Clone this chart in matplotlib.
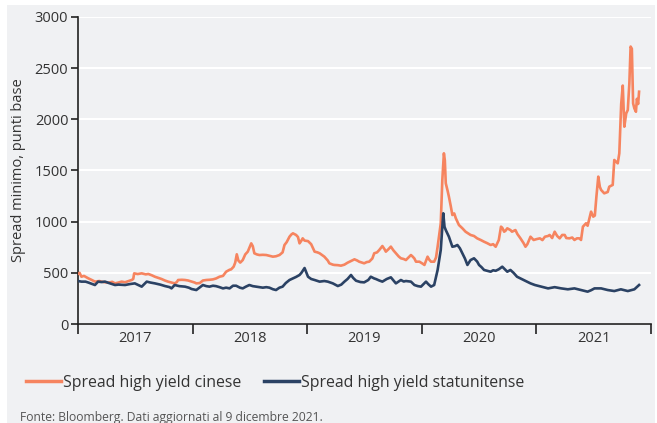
import matplotlib
matplotlib.use("Agg")
import matplotlib.pyplot as plt
from matplotlib.patches import Rectangle
import pandas as pd

plt.rcParams['font.family'] = ['Open Sans', 'DejaVu Sans']

# ---- Data ----
cn_dates = [
    "2017-01-01", "2017-01-06", "2017-01-12", "2017-01-20", "2017-02-03", "2017-02-14", "2017-02-24",
    "2017-03-10", "2017-03-17", "2017-03-28", "2017-04-08", "2017-04-20", "2017-04-29", "2017-05-10",
    "2017-05-20", "2017-05-31", "2017-06-10", "2017-06-21", "2017-06-26", "2017-06-29", "2017-07-10",
    "2017-07-23", "2017-08-05", "2017-08-13", "2017-08-25", "2017-09-03", "2017-09-15", "2017-09-24",
    "2017-10-05", "2017-10-15", "2017-10-26", "2017-11-05", "2017-11-12", "2017-11-16", "2017-11-28",
    "2017-12-08", "2017-12-18", "2017-12-29", "2018-01-08", "2018-01-13", "2018-01-24", "2018-02-03",
    "2018-02-14", "2018-02-24", "2018-03-07", "2018-03-17", "2018-03-28", "2018-04-08", "2018-04-18",
    "2018-04-29", "2018-05-04", "2018-05-12", "2018-05-17", "2018-05-22", "2018-05-27", "2018-06-02",
    "2018-06-10", "2018-06-18", "2018-06-26", "2018-07-03", "2018-07-07", "2018-07-12", "2018-07-17",
    "2018-07-25", "2018-08-02", "2018-08-13", "2018-08-24", "2018-09-03", "2018-09-14", "2018-09-24",
    "2018-10-05", "2018-10-15", "2018-10-21", "2018-10-28", "2018-11-06", "2018-11-12", "2018-11-17",
    "2018-11-27", "2018-12-03", "2018-12-08", "2018-12-13", "2018-12-18", "2018-12-24", "2019-01-04",
    "2019-01-14", "2019-01-25", "2019-02-03", "2019-02-10", "2019-02-25", "2019-03-08", "2019-03-13",
    "2019-03-24", "2019-03-29", "2019-04-09", "2019-04-19", "2019-04-30", "2019-05-10", "2019-05-21",
    "2019-06-01", "2019-06-10", "2019-06-16", "2019-07-02", "2019-07-10", "2019-07-18", "2019-07-28",
    "2019-08-03", "2019-08-12", "2019-08-19", "2019-08-29", "2019-09-05", "2019-09-09", "2019-09-17",
    "2019-09-25", "2019-10-03", "2019-10-11", "2019-10-20", "2019-10-27", "2019-11-05", "2019-11-12",
    "2019-11-20", "2019-11-28", "2019-12-03", "2019-12-09", "2019-12-14", "2019-12-25", "2020-01-04",
    "2020-01-10", "2020-01-20", "2020-01-25", "2020-01-31", "2020-02-10", "2020-02-16", "2020-02-21",
    "2020-03-02", "2020-03-07", "2020-03-12", "2020-03-15", "2020-03-18", "2020-03-24", "2020-03-28",
    "2020-04-03", "2020-04-08", "2020-04-14", "2020-04-19", "2020-04-29", "2020-05-10", "2020-05-20",
    "2020-06-05", "2020-06-16", "2020-06-26", "2020-07-08", "2020-07-18", "2020-07-28", "2020-08-08",
    "2020-08-16", "2020-08-24", "2020-09-03", "2020-09-10", "2020-09-14", "2020-09-20", "2020-09-24",
    "2020-09-30", "2020-10-10", "2020-10-15", "2020-10-26", "2020-11-01", "2020-11-11", "2020-11-21",
    "2020-11-27", "2020-12-03", "2020-12-13", "2020-12-23", "2021-01-02", "2021-01-12", "2021-01-20",
    "2021-01-28", "2021-02-07", "2021-02-12", "2021-02-20", "2021-02-28", "2021-03-08", "2021-03-16",
    "2021-03-24", "2021-04-01", "2021-04-06", "2021-04-16", "2021-04-25", "2021-05-02", "2021-05-10",
    "2021-05-18", "2021-05-23", "2021-05-29", "2021-06-08", "2021-06-13", "2021-06-24", "2021-07-01",
    "2021-07-06", "2021-07-11", "2021-07-17", "2021-07-22", "2021-07-26", "2021-08-05", "2021-08-16",
    "2021-08-21", "2021-09-01", "2021-09-06", "2021-09-17", "2021-09-22", "2021-09-28", "2021-10-03",
    "2021-10-08", "2021-10-14", "2021-10-19", "2021-10-24", "2021-10-28", "2021-11-01", "2021-11-05",
    "2021-11-09", "2021-11-14", "2021-11-17", "2021-11-21", "2021-11-24",
]
cn_values = [
    490, 500, 462, 470, 446, 430, 414,
    420, 414, 408, 404, 412, 397, 405,
    414, 408, 418, 430, 440, 495, 488,
    495, 485, 489, 475, 462, 450, 440,
    425, 414, 405, 397, 410, 430, 432,
    430, 425, 414, 405, 397, 400, 425,
    430, 432, 436, 445, 462, 470, 511,
    530, 534, 560, 600, 681, 620, 600,
    625, 680, 707, 760, 788, 760, 691,
    680, 674, 676, 674, 666, 658, 662,
    674, 700, 772, 800, 853, 875, 886,
    870, 850, 788, 810, 837, 815, 810,
    780, 707, 700, 691, 658, 620, 593,
    580, 577, 575, 570, 580, 599, 615,
    632, 620, 609, 593, 605, 609, 640,
    691, 700, 723, 762, 730, 707, 730,
    756, 720, 691, 660, 642, 635, 625,
    650, 674, 660, 640, 609, 609, 590,
    577, 658, 630, 609, 609, 650, 755,
    984, 1407, 1668, 1600, 1375, 1300, 1244,
    1150, 1065, 1080, 1033, 967, 935, 902,
    870, 860, 837, 820, 804, 790, 772,
    780, 755, 821, 951, 940, 902, 910,
    935, 918, 902, 918, 880, 837, 790,
    755, 780, 853, 821, 830, 837, 820,
    853, 860, 870, 840, 902, 860, 837,
    870, 870, 840, 837, 845, 821, 837,
    837, 821, 951, 984, 960, 1098, 1049,
    1060, 1244, 1440, 1340, 1310, 1277, 1290,
    1342, 1359, 1603, 1570, 1668, 2150, 2330,
    1928, 2058, 2091, 2350, 2711, 2690, 2156,
    2107, 2074, 2200, 2150, 2270,
]

us_dates = [
    "2017-01-01", "2017-01-12", "2017-01-25", "2017-02-03", "2017-02-24", "2017-03-06", "2017-03-17",
    "2017-03-28", "2017-04-10", "2017-04-29", "2017-05-10", "2017-05-31", "2017-06-15", "2017-07-01",
    "2017-07-23", "2017-08-08", "2017-08-20", "2017-09-03", "2017-09-20", "2017-10-05", "2017-10-20",
    "2017-10-26", "2017-11-05", "2017-11-20", "2017-12-08", "2017-12-20", "2017-12-29", "2018-01-13",
    "2018-02-03", "2018-02-14", "2018-02-24", "2018-03-07", "2018-03-17", "2018-03-28", "2018-04-08",
    "2018-04-18", "2018-04-29", "2018-05-10", "2018-05-20", "2018-06-01", "2018-06-10", "2018-06-20",
    "2018-07-01", "2018-07-12", "2018-07-23", "2018-08-02", "2018-08-13", "2018-08-24", "2018-09-03",
    "2018-09-14", "2018-09-24", "2018-10-05", "2018-10-15", "2018-10-25", "2018-11-06", "2018-11-17",
    "2018-11-27", "2018-12-08", "2018-12-14", "2018-12-24", "2019-01-04", "2019-01-14", "2019-01-25",
    "2019-02-10", "2019-02-25", "2019-03-08", "2019-03-24", "2019-04-09", "2019-04-20", "2019-04-30",
    "2019-05-10", "2019-05-21", "2019-05-28", "2019-06-06", "2019-06-20", "2019-07-02", "2019-07-15",
    "2019-07-23", "2019-08-03", "2019-08-08", "2019-08-19", "2019-08-29", "2019-09-12", "2019-09-25",
    "2019-10-05", "2019-10-11", "2019-10-20", "2019-10-27", "2019-11-05", "2019-11-12", "2019-11-28",
    "2019-12-09", "2019-12-20", "2019-12-30", "2020-01-15", "2020-01-22", "2020-01-31", "2020-02-10",
    "2020-02-21", "2020-03-02", "2020-03-10", "2020-03-14", "2020-03-18", "2020-03-24", "2020-03-28",
    "2020-04-03", "2020-04-08", "2020-04-16", "2020-04-24", "2020-05-02", "2020-05-10", "2020-05-18",
    "2020-05-26", "2020-06-05", "2020-06-16", "2020-06-26", "2020-07-02", "2020-07-10", "2020-07-18",
    "2020-07-28", "2020-08-08", "2020-08-16", "2020-08-24", "2020-09-03", "2020-09-14", "2020-09-24",
    "2020-09-30", "2020-10-10", "2020-10-20", "2020-10-31", "2020-11-11", "2020-11-21", "2020-12-01",
    "2020-12-13", "2020-12-27", "2021-01-17", "2021-02-07", "2021-02-28", "2021-03-21", "2021-04-11",
    "2021-05-02", "2021-05-23", "2021-06-13", "2021-06-24", "2021-07-05", "2021-07-26", "2021-08-16",
    "2021-09-06", "2021-09-27", "2021-10-19", "2021-11-09", "2021-11-24",
]
us_values = [
    420, 414, 414, 405, 381, 414, 410,
    414, 400, 381, 385, 381, 390, 397,
    365, 414, 405, 397, 385, 371, 360,
    348, 381, 370, 365, 355, 342, 332,
    381, 370, 365, 374, 370, 360, 348,
    355, 348, 374, 374, 355, 348, 365,
    381, 370, 365, 360, 355, 360, 355,
    340, 332, 355, 365, 400, 430, 446,
    460, 479, 500, 547, 462, 440, 430,
    414, 420, 414, 397, 371, 385, 414,
    440, 479, 450, 423, 410, 407, 430,
    462, 445, 440, 425, 414, 440, 456,
    420, 397, 415, 430, 415, 420, 414,
    381, 370, 365, 414, 390, 365, 381,
    528, 723, 1082, 950, 918, 880, 853,
    800, 755, 760, 772, 740, 691, 640,
    577, 625, 642, 610, 577, 555, 528,
    520, 511, 525, 520, 535, 560, 530,
    511, 528, 500, 462, 445, 430, 415,
    397, 381, 365, 348, 360, 348, 339,
    348, 332, 316, 330, 348, 348, 332,
    322, 339, 322, 339, 381,
]

series_labels = ["Spread high yield cinese", "Spread high yield statunitense"]
year_labels = ["2017", "2018", "2019", "2020", "2021"]
y_ticks = [0, 500, 1000, 1500, 2000, 2500, 3000]

# ---- Style ----
BG = "#f0f1f3"
ORANGE = "#f6845f"
NAVY = "#2b4264"
TXT = "#333333"

fig = plt.figure(figsize=(6.57, 4.23), dpi=100)
fig.patch.set_facecolor("white")
fig.patches.append(Rectangle((7 / 657, 0), (655 - 7) / 657, (423 - 5) / 423,
                             transform=fig.transFigure, facecolor=BG, edgecolor="none", zorder=-10))

ax = fig.add_axes([78 / 657, (423 - 324) / 423, (651 - 78) / 657, (324 - 17) / 423])
ax.set_zorder(1)
ax.set_facecolor(BG)

cn_x = pd.to_datetime(cn_dates)
us_x = pd.to_datetime(us_dates)
ax.plot(cn_x, cn_values, color=ORANGE, lw=1.9, solid_joinstyle="round", label=series_labels[0], zorder=3)
ax.plot(us_x, us_values, color=NAVY, lw=1.9, solid_joinstyle="round", label=series_labels[1], zorder=4)

ax.set_ylim(0, 3000)
ax.set_yticks(y_ticks)
ax.set_yticklabels([str(v) for v in y_ticks])
ax.yaxis.grid(True, color="white", lw=1.5)
ax.set_axisbelow(True)

starts = pd.to_datetime([f"{y}-01-01" for y in year_labels] + ["2022-01-01"])
ax.set_xlim(starts[0], starts[-1])
ax.set_xticks(starts)
ax.set_xticklabels([])
mids = [starts[i] + (starts[i + 1] - starts[i]) / 2 for i in range(len(year_labels))]
ax.set_xticks(mids, minor=True)
ax.set_xticklabels(year_labels, minor=True)
ax.tick_params(axis="x", which="major", length=7, width=1.2, color="#222222", direction="out")
ax.tick_params(axis="x", which="minor", length=0, pad=5, labelsize=10.5, labelcolor=TXT)
ax.tick_params(axis="y", length=5, width=1.2, color="#222222", pad=2, labelsize=10.5, labelcolor=TXT)

for s in ["top", "right"]:
    ax.spines[s].set_visible(False)
for s in ["left", "bottom"]:
    ax.spines[s].set_color("#222222")
    ax.spines[s].set_linewidth(1.2)

ax.set_ylabel("Spread minimo, punti base", fontsize=10.5, color=TXT, labelpad=6)

# Legend
leg = fig.legend(loc="center left", bbox_to_anchor=(12 / 657, 1 - 383 / 423), ncol=2,
                 frameon=False, fontsize=11.4, handlelength=2.2, columnspacing=1.4,
                 handletextpad=0.15, labelcolor=TXT)
for line in leg.get_lines():
    line.set_linewidth(2.5)

fig.text(20 / 657, 1 - 417 / 423, "Fonte: Bloomberg. Dati aggiornati al 9 dicembre 2021.",
         fontsize=8.7, color="#555555", va="center", ha="left")

fig.savefig("out.png", dpi=100)
